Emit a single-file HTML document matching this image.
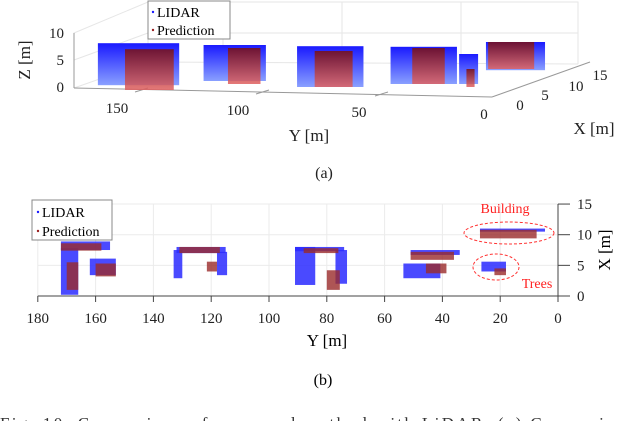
<!DOCTYPE html>
<html><head><meta charset="utf-8">
<style>
html,body{margin:0;padding:0;background:#fff;}
svg{display:block;font-family:"Liberation Serif",serif;}
</style></head>
<body>
<svg id="fig" width="640" height="421" viewBox="0 0 640 421">
<defs>
<linearGradient id="gb" x1="0" y1="0" x2="0" y2="1"><stop offset="0" stop-color="#1a1aff"/><stop offset="1" stop-color="#8aa0ff"/></linearGradient>
<linearGradient id="gr" x1="0" y1="0" x2="0" y2="1"><stop offset="0" stop-color="#7a1010"/><stop offset="1" stop-color="#e06060"/></linearGradient>
</defs>
<g stroke="#e6e6e6" fill="none">
<polyline points="74,88 148,62 148,2 74,33 74,88"/>
<polyline points="148,2 578,2 578,64"/>
<line x1="148" y1="62" x2="578" y2="64"/>
<line x1="74" y1="60" x2="148" y2="33"/><line x1="148" y1="33" x2="578" y2="33"/>
<line x1="223" y1="2" x2="223" y2="62"/><line x1="342" y1="2" x2="342" y2="63"/><line x1="461" y1="2" x2="461" y2="63"/>
<line x1="74" y1="88" x2="492" y2="97" stroke="#999"/>
<line x1="492" y1="97" x2="590" y2="62" stroke="#999"/>
<line x1="74" y1="88" x2="74" y2="33" stroke="#999"/>
<line x1="135" y1="92" x2="148" y2="88" stroke="#999"/><line x1="256" y1="94" x2="269" y2="90" stroke="#999"/><line x1="375" y1="96" x2="388" y2="92" stroke="#999"/>
</g>
<g id="top-marks"></g>
<g font-size="15" fill="#222">
<text x="64" y="38" text-anchor="end">10</text><text x="64" y="65" text-anchor="end">5</text><text x="64" y="92" text-anchor="end">0</text>
<text x="117" y="113" text-anchor="middle">150</text><text x="238" y="115" text-anchor="middle">100</text><text x="359" y="117" text-anchor="middle">50</text><text x="484" y="119" text-anchor="middle">0</text>
<text x="520" y="110" text-anchor="middle">0</text><text x="545" y="100" text-anchor="middle">5</text><text x="576" y="91" text-anchor="middle">10</text><text x="600" y="80" text-anchor="middle">15</text>
<text x="30" y="60" text-anchor="middle" font-size="17" transform="rotate(-90 30 60)">Z [m]</text>
<text x="309" y="141" text-anchor="middle" font-size="17">Y [m]</text>
<text x="594" y="134" text-anchor="middle" font-size="17">X [m]</text>
<text x="324" y="178" text-anchor="middle" font-size="16">(a)</text>
</g>
<g>
<rect x="148" y="1" width="82" height="38" fill="#fff" stroke="#888"/>
<circle cx="153" cy="12" r="1.2" fill="#1a1aff"/><text x="157" y="17" font-size="14">LIDAR</text>
<circle cx="153" cy="30" r="1.2" fill="#9a2020"/><text x="157" y="35" font-size="14">Prediction</text>
</g>
<g id="bot-grid" stroke="#ebebeb"></g>
<g id="bot-marks"></g>
<g id="bot-axes" font-size="15" fill="#222"></g>
<g>
<rect x="32" y="200" width="80" height="40" fill="#fff" stroke="#888"/>
<circle cx="38" cy="212" r="1.2" fill="#1a1aff"/><text x="42" y="217" font-size="14">LIDAR</text>
<circle cx="38" cy="231" r="1.2" fill="#9a2020"/><text x="42" y="236" font-size="14">Prediction</text>
</g>
<g fill="none" stroke="#f33" stroke-dasharray="3,2">
<ellipse cx="509" cy="233" rx="45" ry="11"/>
<ellipse cx="496" cy="267" rx="23" ry="13"/>
</g>
<text x="505" y="213" text-anchor="middle" font-size="14" fill="#f22">Building</text>
<text x="537" y="288" text-anchor="middle" font-size="14" fill="#f22">Trees</text>
<text x="327" y="346" text-anchor="middle" font-size="17">Y [m]</text>
<text x="610" y="250" text-anchor="middle" font-size="17" transform="rotate(-90 610 250)">X [m]</text>
<text x="323" y="385" text-anchor="middle" font-size="16">(b)</text>
<text x="0" y="429" font-size="17" fill="#333" textLength="660">Fig. 10.   Comparison of proposed method with LiDAR. (a) Comparison of</text>
</svg>
<script>
// Bottom (top-view) clusters: [Y0, Y1, X0, X1]
const lidarTop = [[172,155,7.5,8.9],[172,166,0.2,7.8],[162,153,3.4,6.1],[132,115,7,8],[133,130,2.9,7.5],[118,114.5,3.4,7.2],[91,74,7.3,8],[91,84,1.8,8],[77,73,2,7.5],[51,34,6.7,7.5],[53.5,40.7,2.9,5.3],[27,4.5,10.5,11],[26.5,18,4,5.6]];
const predTop = [[172,158,7.4,8.6],[170,166,1,5.5],[160,153,3.2,5.3],[131,117,7,8],[121.5,118,4,5.6],[88,76,7,7.8],[80,75.5,1,4.2],[51,36,5.9,7.2],[45.7,38.6,3.7,5.3],[27,7.4,9.4,10.8],[22,18,3.4,4.5]];
// 3D view clusters: [Y0, Y1, Z0, Z1]
const lidar3d = [[172,142,0.8,7.8],[133,110,1.5,7.5],[98.5,74,0.5,7.3],[64,39.5,1,7.2],[38.7,31.7,1,6],[28.8,7,3.3,8]];
const pred3d = [[162,144,0,6.8],[124,112,1,7],[92,78,0.5,6.5],[56,44,1,7],[36,33,0.5,3.5],[28,11,3.5,8]];
const yTicks = [180,160,140,120,100,80,60,40,20,0];
const xTicks = [0,5,10,15];
const NS='http://www.w3.org/2000/svg';
function px(Y){return 558-Y*2.89;}
function py(X){return 296-X*6.13;}
function sx(Y){return 564-Y*2.71;}
function sy(Z){return 90-Z*6;}
function mk(tag,attrs,parent){const e=document.createElementNS(NS,tag);for(const k in attrs)e.setAttribute(k,attrs[k]);parent.appendChild(e);return e;}
const bm=document.getElementById('bot-marks');
lidarTop.forEach(function(c){
 const r=mk('rect',{x:px(c[0]),y:py(c[3]),width:px(c[1])-px(c[0]),height:py(c[2])-py(c[3]),fill:'#2a2aff',opacity:0.85},bm);
 
 
});
predTop.forEach(function(c){
 const r=mk('rect',{x:px(c[0]),y:py(c[3]),width:px(c[1])-px(c[0]),height:py(c[2])-py(c[3]),fill:'#9a2a2a',opacity:0.8},bm);
 
 
});
const tm=document.getElementById('top-marks');
lidar3d.forEach(function(c){
 const r=mk('rect',{x:sx(c[0]),y:sy(c[3]),width:sx(c[1])-sx(c[0]),height:sy(c[2])-sy(c[3]),fill:'url(#gb)'},tm);
 
 
});
pred3d.forEach(function(c){
 const r=mk('rect',{x:sx(c[0]),y:sy(c[3]),width:sx(c[1])-sx(c[0]),height:sy(c[2])-sy(c[3]),fill:'url(#gr)',opacity:0.85},tm);
 
 
});
const g=document.getElementById('bot-grid'), ax=document.getElementById('bot-axes');
yTicks.forEach(function(t){
 mk('line',{x1:px(t),y1:py(15),x2:px(t),y2:py(0)},g);
 mk('line',{x1:px(t),y1:py(0),x2:px(t),y2:py(0)+6,stroke:'#444'},ax);
 const tx=mk('text',{x:px(t),y:py(0)+27,'text-anchor':'middle'},ax);tx.textContent=t;
 
 
});
xTicks.forEach(function(t){
 mk('line',{x1:px(180),y1:py(t),x2:px(0),y2:py(t)},g);
 mk('line',{x1:px(0),y1:py(t),x2:px(0)+12,y2:py(t),stroke:'#444'},ax);
 const tx=mk('text',{x:px(0)+19,y:py(t)+5},ax);tx.textContent=t;
 
 
});
mk('line',{x1:px(180),y1:py(0),x2:px(0),y2:py(0),stroke:'#444'},ax);
mk('line',{x1:px(0),y1:py(0),x2:px(0),y2:py(15),stroke:'#444'},ax);
</script>
</body></html>
